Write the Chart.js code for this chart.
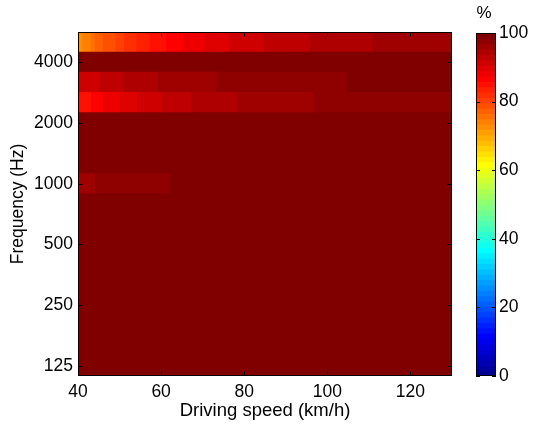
<!DOCTYPE html>
<html>
<head>
<meta charset="utf-8">
<script src="https://cdn.jsdelivr.net/npm/chart.js@4/dist/chart.umd.min.js"></script>
<style>
  html, body { margin: 0; padding: 0; background: #fff; }
  #wrap { position: relative; width: 533px; height: 426px; }
  #heat { position: absolute; left: 0; top: 0; }
  #bar { position: absolute; left: 460px; top: 0; }
</style>
</head>
<body>
<div id="wrap">
  <canvas id="heat" width="460" height="426"></canvas>
  <canvas id="bar" width="73" height="426"></canvas>
</div>
<script>
// 1/3-octave bands, top of the plot first
var bands = ['5000', '4000', '3150', '2500', '2000', '1600', '1250', '1000', '800',
  '630', '500', '400', '315', '250', '200', '160', '125'];
var bandTicks = ['4000', '2000', '1000', '500', '250', '125'];
var speedTicks = [40, 60, 80, 100, 120];
var speedMin = 40;
var speedMax = 130;
var pctTicks = [0, 20, 40, 60, 80, 100];

// speed breakpoints (km/h) and percentage per segment, for rows that vary
var cuts5000 = [40, 41.2, 43.2, 44.2, 46.1, 49.2, 51.2, 54.2, 57.4, 61.4, 65.4, 70.6, 76.6, 84.8, 95.9, 111.1, 130];
var pct5000 = [72.7, 74.2, 75.8, 77.3, 78.9, 80.5, 82.0, 83.6, 85.2, 86.7, 88.3, 89.8, 91.4, 93.0, 94.5, 96.1];
var cuts3150 = [40, 45.2, 51.2, 59.4, 73.5, 105.0, 130];
var pct3150 = [91.4, 93.0, 94.5, 96.1, 97.7, 99.2];
var cuts2500 = [40, 43.3, 46.1, 50.2, 54.4, 60.2, 67.4, 78.6, 96.9, 130];
var pct2500 = [85.2, 86.7, 88.3, 89.8, 91.4, 93.0, 94.5, 96.1, 97.7];
var cuts1000 = [40, 44.2, 62.4, 130];
var pct1000 = [96.1, 97.7, 99.2];
// every other band sits at 100 % over the whole speed range
var cutsFlat = [40, 130];
var pctFlat = [100];

// matlab style jet(64)
var jet = function jet(m) {
  var n = Math.ceil(m / 4);
  var u = [];
  var i;
  for (i = 1; i <= n; i++) u.push(i / n);
  for (i = 1; i < n; i++) u.push(1);
  for (i = n; i >= 1; i--) u.push(i / n);
  var off = Math.ceil(n / 2) - (m % 4 === 1 ? 1 : 0);
  var map = [];
  for (i = 0; i < m; i++) map.push([0, 0, 0]);
  u.forEach(function (v, j) {
    var g = off + j + 1;
    var r = g + n;
    var b = g - n;
    if (g >= 1 && g <= m) map[g - 1][1] = v;
    if (r >= 1 && r <= m) map[r - 1][0] = v;
    if (b >= 1 && b <= m) map[b - 1][2] = v;
  });
  return map.map(function (c) {
    return 'rgb(' + Math.round(c[0] * 255) + ',' + Math.round(c[1] * 255) + ',' + Math.round(c[2] * 255) + ')';
  });
};
var cmap = jet(64);
var colorFor = function colorFor(v) {
  var k = Math.floor(v / 100 * cmap.length);
  return cmap[Math.max(0, Math.min(cmap.length - 1, k))];
};

var rowData = {
  '5000': [cuts5000, pct5000],
  '3150': [cuts3150, pct3150],
  '2500': [cuts2500, pct2500],
  '1000': [cuts1000, pct1000]
};

var cells = [];
var cellColors = [];
bands.forEach(function (b) {
  var row = rowData[b] || [cutsFlat, pctFlat];
  row[1].forEach(function (v, i) {
    cells.push({ y: b, x: [row[0][i], row[0][i + 1]] });
    cellColors.push(colorFor(v));
  });
});

var FONT = 'Liberation Sans, Arial, Helvetica, sans-serif';

// box with inward ticks on all four sides
var boxTicks = {
  id: 'boxTicks',
  afterDraw: function (chart) {
    var ctx = chart.ctx;
    var a = chart.chartArea;
    var len = 4.5;
    ctx.save();
    ctx.strokeStyle = '#000';
    ctx.lineWidth = 1;
    ctx.beginPath();
    speedTicks.forEach(function (s) {
      var px = Math.round(chart.scales.x.getPixelForValue(s)) + 0.5;
      ctx.moveTo(px, a.bottom); ctx.lineTo(px, a.bottom - len);
      ctx.moveTo(px, a.top); ctx.lineTo(px, a.top + len);
    });
    bandTicks.forEach(function (b) {
      var py = Math.round(chart.scales.y.getPixelForValue(bands.indexOf(b))) + 0.5;
      ctx.moveTo(a.left, py); ctx.lineTo(a.left + len, py);
      ctx.moveTo(a.right, py); ctx.lineTo(a.right - len, py);
    });
    ctx.stroke();
    ctx.strokeRect(a.left + 0.5, a.top + 0.5, a.right - a.left - 1, a.bottom - a.top - 1);
    ctx.restore();
  }
};

var heatChart = new Chart(document.getElementById('heat'), {
  type: 'bar',
  data: {
    labels: bands,
    datasets: [{
      data: cells,
      backgroundColor: cellColors,
      borderWidth: 0,
      inflateAmount: 0.6,
      barPercentage: 1,
      categoryPercentage: 1
    }]
  },
  options: {
    indexAxis: 'y',
    responsive: false,
    animation: false,
    layout: { padding: { top: 32, right: 8, left: 0, bottom: 0 } },
    plugins: { legend: { display: false }, tooltip: { enabled: false } },
    scales: {
      x: {
        type: 'linear',
        min: speedMin,
        max: speedMax,
        afterBuildTicks: function (s) { s.ticks = speedTicks.map(function (v) { return { value: v }; }); },
        afterFit: function (s) { s.height = 50; },
        grid: { display: false, drawTicks: false },
        border: { display: false },
        ticks: { color: '#000', padding: 6, font: { family: FONT, size: 17.5 }, maxRotation: 0 },
        title: {
          display: true, text: 'Driving speed (km/h)', color: '#000',
          font: { family: FONT, size: 18.5 }, padding: { top: 0, bottom: 4 }
        }
      },
      y: {
        type: 'category',
        afterFit: function (s) { s.width = 78; },
        grid: { display: false, drawTicks: false },
        border: { display: false },
        ticks: {
          color: '#000', padding: 5, autoSkip: false, font: { family: FONT, size: 17.5 },
          callback: function (v) {
            var lab = this.getLabelForValue(v);
            return bandTicks.indexOf(lab) >= 0 ? lab : '';
          }
        },
        title: {
          display: true, text: 'Frequency (Hz)', color: '#000',
          font: { family: FONT, size: 17.5 }, padding: { top: 8, bottom: 0 }
        }
      }
    }
  },
  plugins: [boxTicks]
});

// colour bar: 64 flat steps of the jet map
var steps = cmap.map(function (c, i) {
  return { x: 'c', y: [i * 100 / cmap.length, (i + 1) * 100 / cmap.length] };
});

var barFrame = {
  id: 'barFrame',
  afterDraw: function (chart) {
    var ctx = chart.ctx;
    var a = chart.chartArea;
    var len = 4;
    ctx.save();
    ctx.strokeStyle = '#000';
    ctx.lineWidth = 1;
    ctx.beginPath();
    pctTicks.forEach(function (p) {
      var py = Math.round(chart.scales.y.getPixelForValue(p)) + 0.5;
      ctx.moveTo(a.left, py); ctx.lineTo(a.left + len, py);
      ctx.moveTo(a.right, py); ctx.lineTo(a.right - len, py);
    });
    ctx.stroke();
    ctx.strokeRect(a.left + 0.5, a.top + 0.5, a.right - a.left - 1, a.bottom - a.top - 1);
    ctx.fillStyle = '#000';
    ctx.font = '17px ' + FONT;
    ctx.textAlign = 'center';
    ctx.textBaseline = 'middle';
    ctx.fillText('%', (a.left + a.right) / 2 - 2, 13);
    ctx.restore();
  }
};

var colorBar = new Chart(document.getElementById('bar'), {
  type: 'bar',
  data: {
    labels: ['c'],
    datasets: [{
      data: steps,
      backgroundColor: cmap,
      borderWidth: 0,
      inflateAmount: 0.6,
      barPercentage: 1,
      categoryPercentage: 1
    }]
  },
  options: {
    responsive: false,
    animation: false,
    layout: { padding: { top: 33, right: 0, left: 16, bottom: 50 } },
    plugins: { legend: { display: false }, tooltip: { enabled: false } },
    scales: {
      x: { display: false },
      y: {
        position: 'right',
        min: 0,
        max: 100,
        afterBuildTicks: function (s) { s.ticks = pctTicks.map(function (v) { return { value: v }; }); },
        afterFit: function (s) { s.width = 37; },
        grid: { display: false, drawTicks: false },
        border: { display: false },
        ticks: { color: '#000', padding: 3, font: { family: FONT, size: 17.5 } }
      }
    }
  },
  plugins: [barFrame]
});
</script>
</body>
</html>
